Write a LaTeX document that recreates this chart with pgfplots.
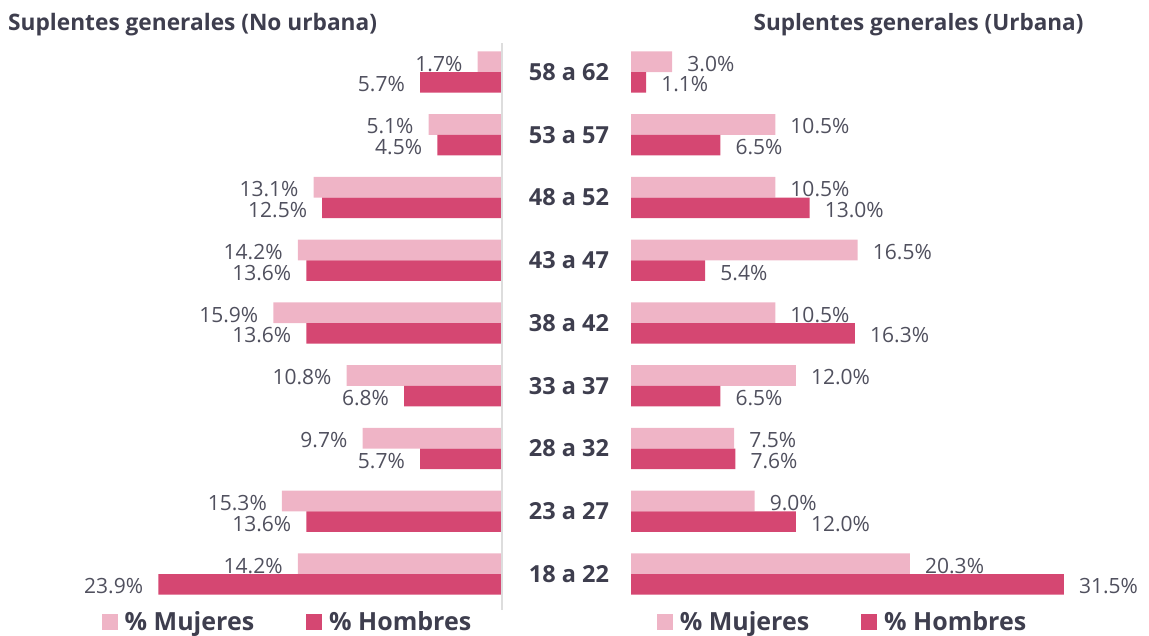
\documentclass[border=0pt]{standalone}
\usepackage{pgfplots}
\pgfplotsset{compat=1.18}
\usepackage{fontspec}
\setmainfont{Open Sans}
\definecolor{lp}{HTML}{EFB4C6}
\definecolor{dp}{HTML}{D54772}
\definecolor{tx}{HTML}{3E3E4E}
\definecolor{lbl}{HTML}{50505E}
\definecolor{axl}{HTML}{DDDDDD}

\pgfplotstableread{
y  lm    lh    rm    rh
0  14.2  23.9  20.3  31.5
1  15.3  13.6  9.0   12.0
2  9.7   5.7   7.5   7.6
3  10.8  6.8   12.0  6.5
4  15.9  13.6  10.5  16.3
5  14.2  13.6  16.5  5.4
6  13.1  12.5  10.5  13.0
7  5.1   4.5   10.5  6.5
8  1.7   5.7   3.0   1.1
}\datatable

\begin{document}
\begin{tikzpicture}[x=1pt,y=1pt]
\useasboundingbox (0,0) rectangle (1149,635);
\pgfplotsset{
 common/.style={
  xbar, scale only axis, height=564.75pt, ymin=-0.5, ymax=8.5, xmin=0,
  bar width=20.7pt, clip=false, axis x line=none, axis line style={draw=none},
  ytick={0,...,8}, major tick length=0pt,
  /pgf/number format/assume math mode=true,
  nodes near coords={\pgfmathprintnumber[fixed,fixed zerofill,precision=1]{\pgfplotspointmeta}\%},
  every node near coord/.append style={font=\fontsize{21}{21}\selectfont, text=lbl, inner sep=0pt, yshift=-2pt},
  legend style={draw=none, fill=none, legend columns=2, font=\bfseries\fontsize{25}{25}\selectfont, text=tx, inner sep=0pt, /tikz/every even column/.append style={column sep=50pt}},
  legend image code/.code={\fill (0pt,-8pt) rectangle (16pt,8pt); \path (21pt,0pt);},
 }
}
\begin{axis}[common, at={(100pt,29.6pt)}, anchor=south west, width=402pt, xmax=27.955, x dir=reverse,
  yticklabels={}, 
  every node near coord/.append style={anchor=east, xshift=-15pt},
  legend style={at={(0.4664,-0.0294)}, anchor=center}]
\addplot[fill=lp, draw=none, bar shift=10.35pt] table[x=lm, y=y] {\datatable};
\addplot[fill=dp, draw=none, bar shift=-10.35pt] table[x=lh, y=y] {\datatable};
\legend{\% Mujeres, \% Hombres}
\draw[axl, line width=1.3pt] (axis cs:0,-0.57) -- (axis cs:0,8.46);
\end{axis}
\begin{axis}[common, at={(631pt,29.6pt)}, anchor=south west, width=500pt, xmax=36.39,
  yticklabels={18 a 22,23 a 27,28 a 32,33 a 37,38 a 42,43 a 47,48 a 52,53 a 57,58 a 62},
  yticklabel style={font=\bfseries\fontsize{23.5}{23.5}\selectfont, text=tx, anchor=center, xshift=-62pt},
  every node near coord/.append style={anchor=west, xshift=15pt},
  legend style={at={(0.423,-0.0294)}, anchor=center}]
\addplot[fill=lp, draw=none, bar shift=10.35pt] table[x=rm, y=y] {\datatable};
\addplot[fill=dp, draw=none, bar shift=-10.35pt] table[x=rh, y=y] {\datatable};
\legend{\% Mujeres, \% Hombres}
\end{axis}
\node[anchor=west, inner sep=0pt, font=\bfseries\fontsize{22.7}{22.7}\selectfont, text=tx] at (8pt,610pt) {Suplentes generales (No urbana)};
\node[anchor=center, inner sep=0pt, font=\bfseries\fontsize{22.5}{22.5}\selectfont, text=tx] at (918.5pt,610pt) {Suplentes generales (Urbana)};
\end{tikzpicture}
\end{document}
